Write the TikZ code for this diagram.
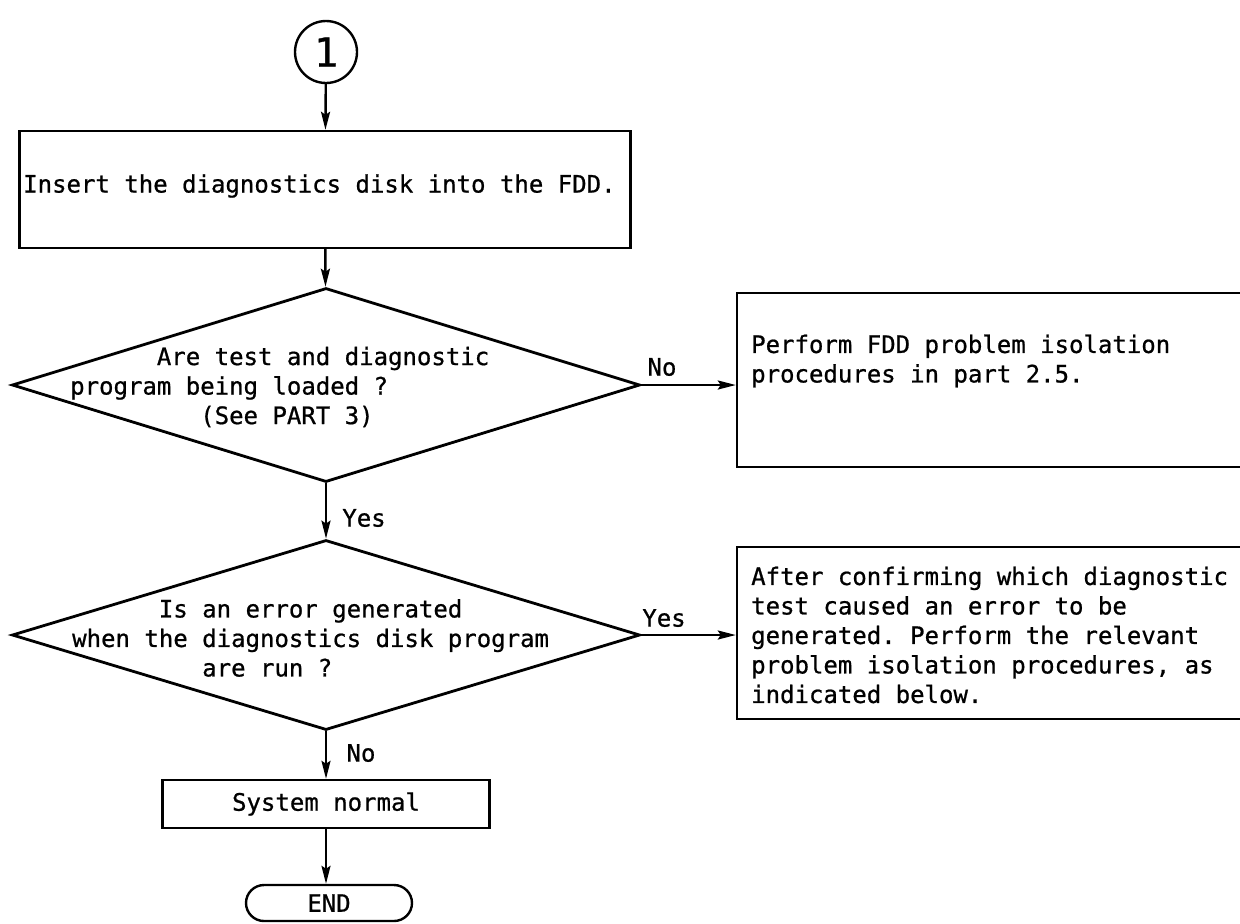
\documentclass[tikz,border=0pt]{standalone}
\usepackage{fontspec}
\setmonofont{DejaVu Sans Mono}[BoldFont={DejaVu Sans Mono},BoldFeatures={FakeBold=0.8}]
\usetikzlibrary{arrows.meta,shapes.geometric}

\begin{document}
\begin{tikzpicture}[x=0.5pt,y=-0.5pt,line width=1.2pt,>={Stealth[length=9pt,width=4.5pt,inset=1.5pt]},
  every node/.style={font=\ttfamily\bfseries\fontsize{12}{14.75}\selectfont},
  box/.style={draw,inner sep=0pt},
  decision/.style={draw,diamond,inner sep=0pt,line width=1.4pt,minimum width=314pt},
  txt/.style={anchor=west,align=left,inner sep=0pt},
  lbl/.style={inner sep=0pt}]
\useasboundingbox (0,0) rectangle (1240,923);
% main column
\node[draw,circle,minimum size=31pt,inner sep=0pt,font=\ttfamily\bfseries\fontsize{20}{20}\selectfont] (start) at (326,52) {1};
\node[box,minimum width=305.5pt,minimum height=58.5pt] (insert) at (325,189.5) {};
\node[txt] (inserttxt) at (22,186) {Insert the diagnostics disk into the FDD.};
\node[decision,minimum height=97pt] (q1) at (326,385) {};
\node[txt] (q1txt) at (69,387) {\hspace*{3.612em}Are test and diagnostic\\program being loaded ?\\\hspace*{5.418em}(See PART 3)};
\node[decision,minimum height=95pt] (q2) at (326,635) {};
\node[txt] (q2txt) at (71,638) {\hspace*{3.612em}Is an error generated\\when the diagnostics disk program\\\hspace*{5.418em}are run ?};
\node[box,minimum width=163.5pt,minimum height=24pt] (normal) at (326,804) {System normal};
\node[box,rounded corners=9pt,minimum width=83pt,minimum height=18pt] (stop) at (329,903) {END};
% right column
\node[box,minimum width=254.5pt,minimum height=87pt] (fdd) at (991.5,380) {};
\node[txt] (fddtxt) at (750,361) {Perform FDD problem isolation\\procedures in part 2.5.};
\node[box,minimum width=254.5pt,minimum height=86pt] (after) at (991.5,633) {};
\node[txt] (aftertxt) at (750,635) {After confirming which diagnostic\\test caused an error to be\\generated. Perform the relevant\\problem isolation procedures, as\\indicated below.};
% labels
\node[lbl] (no1) at (662,367) {No};
\node[lbl] (yes1) at (364,518) {Yes};
\node[lbl] (yes2) at (664,618) {Yes};
\node[lbl] (no2) at (361,753) {No};
% connectors
\draw[->] (start)--(insert);\draw[->] (insert)--(q1);\draw[->] (q1)--(q2);
\draw[->] (q2.south)--(q2.south |- normal.north);\draw[->] (normal.south)--(normal.south |- stop.north);
\draw[->] (q1.east)--(q1.east -| fdd.west);\draw[->] (q2.east)--(q2.east -| after.west);
\end{tikzpicture}
\end{document}
